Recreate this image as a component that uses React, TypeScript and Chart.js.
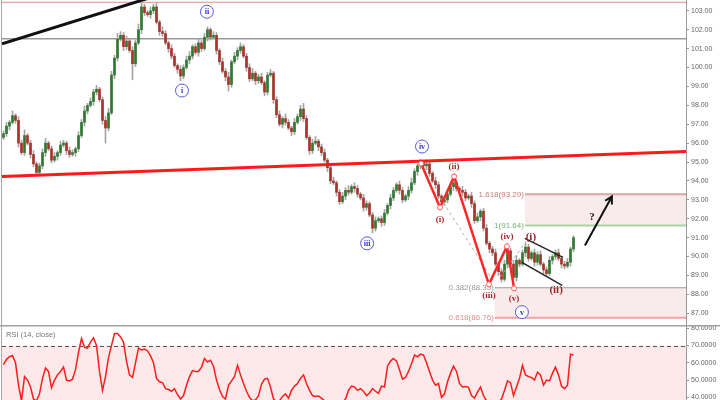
import React, { useEffect, useRef } from 'react';
import { Chart, registerables } from 'chart.js';

Chart.register(...registerables);

// ---------- DATA ----------
const TOTAL_SLOTS = 228; // candle slots incl. empty future space
const firstOpen = 96.3;
const closes = [
  96.5, 96.9, 97.1, 97.45, 97.2, 96.0, 95.5, 96.4, 96.0, 95.4,
  94.9, 94.45, 94.8, 95.5, 96.0, 95.7, 95.1, 95.3, 95.5, 95.9,
  96.0, 95.6, 95.4, 95.5, 95.7, 96.4, 97.1, 97.7, 98.0, 98.2,
  98.7, 98.85, 98.3, 97.2, 96.8, 97.6, 99.6, 100.5, 101.5, 101.7,
  101.1, 101.4, 100.9, 100.2, 101.3, 102.0, 103.2, 102.9, 102.8, 103.0,
  103.2, 102.4, 101.9, 101.8, 101.3, 101.0, 100.6, 100.1, 99.9, 99.55,
  100.0, 100.4, 100.6, 101.1, 100.8, 101.3, 101.0, 101.6, 102.0, 101.6,
  101.7, 100.9, 100.3, 99.8, 99.5, 99.1, 100.3, 100.6, 100.9, 101.1,
  100.6, 100.0, 99.4, 99.7, 99.3, 99.5, 99.2, 98.7, 99.6, 99.7,
  98.3, 97.5, 97.0, 97.3, 97.1, 96.8, 96.6, 97.1, 97.4, 97.8,
  97.3, 96.3, 95.6, 96.0, 96.1, 95.8, 95.5, 95.1, 94.7, 94.0,
  93.9, 93.4, 92.9, 93.2, 93.5, 93.4, 93.7, 93.6, 93.3, 93.1,
  92.6, 92.8, 92.2, 91.5, 91.9, 92.0, 91.8, 92.3, 92.7, 93.1,
  93.5, 93.8, 93.5, 93.0, 93.2, 93.5, 93.9, 94.5, 94.8, 95.0,
  94.8, 94.9, 94.4, 94.0, 93.8, 93.2, 92.9, 93.0, 93.3, 93.7,
  93.9, 93.6, 93.5, 93.4, 93.1, 93.2, 92.8, 91.9, 92.1, 92.4,
  91.5, 90.7, 90.4, 90.2, 89.6, 89.2, 88.8, 89.6, 90.3, 89.6,
  88.9, 89.8, 89.6, 90.2, 90.5, 89.9, 90.2, 89.7, 90.1, 89.6,
  89.3, 89.1, 89.8, 90.0, 90.2, 89.9, 89.6, 89.5, 89.7, 90.4, 91.0,
];
const upWick = [
  0.15, 0.2, 0.1, 0.25, 0.1, 0.2, 0.15, 0.3, 0.1, 0.15,
  0.2, 0.1, 0.15, 0.2, 0.25, 0.1, 0.15, 0.2, 0.1, 0.2,
  0.15, 0.1, 0.2, 0.15, 0.1, 0.2, 0.15, 0.25, 0.1, 0.2,
  0.15, 0.2, 0.1, 0.15, 0.2, 0.25, 0.2, 0.15, 0.3, 0.2,
  0.15, 0.25, 0.1, 0.2, 0.15, 0.3, 0.2, 0.15, 0.1, 0.2,
  0.15, 0.2, 0.1, 0.25, 0.15, 0.1, 0.2, 0.15, 0.1, 0.2,
  0.15, 0.2, 0.25, 0.1, 0.15, 0.2, 0.15, 0.2, 0.15, 0.1,
  0.2, 0.15, 0.1, 0.2, 0.15, 0.25, 0.1, 0.2, 0.15, 0.2,
  0.1, 0.15, 0.2, 0.25, 0.1, 0.15, 0.2, 0.1, 0.15, 0.2,
  0.1, 0.15, 0.2, 0.1, 0.25, 0.15, 0.1, 0.2, 0.15, 0.2,
  0.3, 0.15, 0.1, 0.2, 0.25, 0.1, 0.15, 0.2, 0.1, 0.15,
  0.2, 0.1, 0.15, 0.2, 0.15, 0.25, 0.1, 0.2, 0.15, 0.1,
  0.2, 0.15, 0.1, 0.15, 0.2, 0.1, 0.15, 0.2, 0.1, 0.2,
  0.15, 0.1, 0.2, 0.15, 0.1, 0.2, 0.25, 0.15, 0.1, 0.15,
  0.1, 0.2, 0.15, 0.1, 0.2, 0.15, 0.1, 0.2, 0.15, 0.1,
  0.2, 0.15, 0.1, 0.2, 0.15, 0.1, 0.2, 0.15, 0.2, 0.1,
  0.15, 0.2, 0.1, 0.15, 0.2, 0.1, 0.15, 0.2, 0.1, 0.15,
  0.2, 0.25, 0.1, 0.15, 0.2, 0.15, 0.1, 0.2, 0.15, 0.2,
  0.1, 0.15, 0.2, 0.1, 0.15, 0.2, 0.1, 0.15, 0.2, 0.1, 0.1,
];
const downWick = [
  0.1, 0.15, 0.2, 0.1, 0.15, 0.2, 0.1, 0.15, 0.1, 0.2,
  0.15, 0.2, 0.1, 0.15, 0.2, 0.1, 0.15, 0.1, 0.2, 0.15,
  0.1, 0.2, 0.15, 0.1, 0.2, 0.15, 0.1, 0.2, 0.15, 0.1,
  0.2, 0.15, 0.1, 0.2, 0.8, 0.15, 0.1, 0.2, 0.15, 0.1,
  0.2, 0.15, 0.1, 0.85, 0.15, 0.1, 0.2, 0.15, 0.1, 0.2,
  0.15, 0.1, 0.2, 0.15, 0.1, 0.2, 0.15, 0.1, 0.2, 0.25,
  0.15, 0.1, 0.2, 0.15, 0.1, 0.2, 0.15, 0.1, 0.2, 0.15,
  0.1, 0.2, 0.15, 0.1, 0.2, 0.35, 0.15, 0.1, 0.2, 0.15,
  0.1, 0.2, 0.15, 0.1, 0.2, 0.15, 0.1, 0.2, 0.15, 0.1,
  0.2, 0.15, 0.1, 0.2, 0.15, 0.1, 0.2, 0.15, 0.1, 0.2,
  0.15, 0.1, 0.2, 0.15, 0.1, 0.2, 0.15, 0.1, 0.2, 0.15,
  0.1, 0.2, 0.15, 0.1, 0.2, 0.15, 0.1, 0.2, 0.15, 0.1,
  0.2, 0.15, 0.1, 0.25, 0.15, 0.1, 0.2, 0.15, 0.1, 0.2,
  0.15, 0.1, 0.2, 0.15, 0.1, 0.2, 0.15, 0.1, 0.2, 0.15,
  0.1, 0.2, 0.15, 0.1, 0.2, 0.15, 0.1, 0.2, 0.15, 0.1,
  0.2, 0.15, 0.1, 0.2, 0.15, 0.1, 0.2, 0.15, 0.1, 0.2,
  0.15, 0.1, 0.2, 0.15, 0.1, 0.2, 0.15, 0.1, 0.2, 0.15,
  0.1, 0.2, 0.15, 0.1, 0.2, 0.15, 0.1, 0.2, 0.15, 0.1,
  0.2, 0.15, 0.1, 0.2, 0.15, 0.1, 0.2, 0.15, 0.1, 0.2, 0.15,
];
const rsiValues = [
  59, 62, 63.5, 64.2, 60, 47, 38, 52, 50, 46,
  39, 38, 42, 51, 57, 55, 45.5, 50, 53, 55,
  57.5, 50, 49.5, 50.5, 56, 66, 74, 69, 68.5, 72,
  74.5, 70, 55, 44, 52, 63, 70, 77, 77, 75,
  72, 61, 53, 51.5, 60, 68.5, 67.5, 68, 67, 64,
  60, 51, 49, 48.5, 45, 44.5, 43.5, 45, 41.5, 39,
  41, 47, 52, 55.5, 55, 55, 57.5, 62.5, 60.5, 61.5,
  58, 50, 44.5, 40.5, 39, 47, 49.5, 52, 58.5, 53,
  48, 43.5, 40, 38, 38.5, 41, 47.5, 50.5, 51, 46,
  39, 37.5, 38, 40.5, 42, 39.5, 44, 46.5, 48, 51,
  53, 48, 44, 41, 40.5, 40.8, 39.5, 38, 37, 36.5,
  36, 35.5, 35, 37, 39, 44, 46.5, 46, 44, 45,
  43.5, 41, 42.5, 45, 43.5, 42.3, 46.5, 46, 58, 61,
  62.5, 61, 56, 50.5, 51.5, 55, 59.5, 64.5, 63.5, 65,
  64.5, 60, 55, 50, 47, 48, 40, 42, 49, 54,
  58, 55, 48, 46, 46.3, 45.8, 41, 39.5, 43, 46,
  41, 38, 37, 36.5, 36.5, 37, 39, 44, 49.5, 48.5,
  41, 46, 51, 58.5, 53, 52, 51.5, 50, 54.5, 53,
  47, 50, 49.5, 54, 57.5, 53, 46.5, 45, 47, 65, 64.5,
];

// Reference levels (price)
const refLevels = [103.45, 101.52];
// Fibonacci levels
const fibLabels = ['1.618(93.29)', '1(91.64)', '0.382(88.35)', '0.618(86.76)'];
const fibValues = [93.29, 91.64, 88.35, 86.76];
const fibStart = [173.8, 173.8, 163.8, 163.8];
const fibZoneTop = [93.29, 88.35];
const fibZoneBottom = [91.64, 86.76];
const fibZoneStart = [173.8, 163.8];

// Trend lines [index, price]
const redTrend = [[-0.5, 94.24], [227.5, 95.56]];
const blackTrend = [[-0.5, 101.25], [48, 103.65]];

// Primary wave labels (circled)
const circleLabels = ['i', 'ii', 'iii', 'iv', 'v'];
const circleIdx = [59.5, 67.8, 121.2, 139.5, 172.8];
const circlePrice = [98.78, 102.95, 90.7, 95.82, 87.06];

// Minor wave zigzag
const zigIdx = [139.2, 145.5, 150.2, 161.8, 167.8, 170.2];
const zigPrice = [94.92, 92.6, 94.24, 88.53, 90.54, 88.32];
const zigLabels = ['', '(i)', '(ii)', '(iii)', '(iv)', '(v)'];
const zigLabelPrice = [0, 91.97, 94.76, 87.95, 91.07, 87.79];

// Sub-wave labels after (v)
const subLabels = ['(i)', '(ii)'];
const subIdx = [175.8, 184.2];
const subPrice = [91.01, 88.21];

// Channel & dashed fib guides
const channelUpper = [[173.8, 90.96], [186.5, 89.96]];
const channelLower = [[172.8, 89.69], [186.2, 88.48]];
const dashedA = [[145.5, 93.13], [163.2, 88.74]];
const dashedB = [[165.5, 88.9], [174.5, 90.86]];

// Projection arrow
const arrowPts = [[193.8, 90.59], [202.8, 93.18]];
const questionAt = [196.2, 92.07];

// Axis ranges
const MAIN_MIN = 86.38;
const MAIN_MAX = 103.57;
const RSI_MIN = 38.44;
const RSI_MAX = 81.9;
const RSI_UPPER = 70;
const RSI_LOWER = 30;

const UP = '#2e7a30';
const DOWN = '#a5352b';
const SANS = '"Liberation Sans", Arial, sans-serif';
const SERIF = '"Liberation Serif", "Times New Roman", serif';

function axisFit(s: any) {
  s.width = 34;
  s.paddingTop = 0;
  s.paddingBottom = 0;
}

export default function App() {
  const mainRef = useRef<HTMLCanvasElement>(null);
  const rsiRef = useRef<HTMLCanvasElement>(null);

  useEffect(() => {
    const labels = Array.from({ length: TOTAL_SLOTS }, (_, i) => String(i));
    const opens = closes.map((c, i) => (i === 0 ? firstOpen : closes[i - 1]));
    const bodies = closes.map((c, i) => [opens[i], c]);
    const wicks = closes.map((c, i) => [
      Math.min(opens[i], c) - downWick[i],
      Math.max(opens[i], c) + upWick[i],
    ]);
    const bodyColors = closes.map((c, i) => (c >= opens[i] ? UP : DOWN));

    const mainOverlay = {
      id: 'mainOverlay',
      beforeDatasetsDraw(chart: any) {
        const { ctx, chartArea: a, scales } = chart;
        const X = (v: number) => scales.x.getPixelForValue(v);
        const Y = (v: number) => scales.y.getPixelForValue(v);
        ctx.save();
        ctx.beginPath();
        ctx.rect(a.left, a.top, a.right - a.left, a.bottom - a.top);
        ctx.clip();
        for (let k = 0; k < fibZoneTop.length; k++) {
          const x0 = X(fibZoneStart[k]);
          ctx.fillStyle = 'rgba(240, 205, 205, 0.4)';
          ctx.fillRect(x0, Y(fibZoneTop[k]), a.right - x0, Y(fibZoneBottom[k]) - Y(fibZoneTop[k]));
        }
        const refColors = ['#e58a8a', '#9a9a9a'];
        refLevels.forEach((lv, k) => {
          ctx.strokeStyle = refColors[k];
          ctx.lineWidth = k === 0 ? 1 : 1.5;
          ctx.beginPath();
          ctx.moveTo(a.left, Y(lv));
          ctx.lineTo(a.right, Y(lv));
          ctx.stroke();
        });
        ctx.restore();
      },
      afterDatasetsDraw(chart: any) {
        const { ctx, chartArea: a, scales } = chart;
        const X = (v: number) => scales.x.getPixelForValue(v);
        const Y = (v: number) => scales.y.getPixelForValue(v);
        const seg = (pts: number[][], color: string, w: number, dash: number[] = []) => {
          ctx.strokeStyle = color;
          ctx.lineWidth = w;
          ctx.setLineDash(dash);
          ctx.beginPath();
          ctx.moveTo(X(pts[0][0]), Y(pts[0][1]));
          for (let k = 1; k < pts.length; k++) ctx.lineTo(X(pts[k][0]), Y(pts[k][1]));
          ctx.stroke();
          ctx.setLineDash([]);
        };
        ctx.save();
        ctx.beginPath();
        ctx.rect(a.left, a.top, a.right - a.left, a.bottom - a.top);
        ctx.clip();

        const fibLineColors = ['#d9a3a3', '#a9d3a1', '#9a9a9a', '#f2a4a4'];
        const fibLineWidths = [2, 2, 1, 2];
        const fibTextColors = ['#c87878', '#78b078', '#9a9a9a', '#ee8888'];
        fibValues.forEach((v, k) => {
          const x0 = X(fibStart[k]);
          ctx.strokeStyle = fibLineColors[k];
          ctx.lineWidth = fibLineWidths[k];
          ctx.beginPath();
          ctx.moveTo(x0, Y(v));
          ctx.lineTo(a.right, Y(v));
          ctx.stroke();
          ctx.fillStyle = fibTextColors[k];
          ctx.font = `8px ${SANS}`;
          ctx.textAlign = 'right';
          ctx.textBaseline = 'middle';
          ctx.fillText(fibLabels[k], x0 - 1, Y(v));
        });

        seg(dashedA, '#b0b0b0', 1, [3, 3]);
        seg(dashedB, '#b0b0b0', 1, [3, 3]);

        seg(redTrend, '#ff1a1a', 3);
        seg(blackTrend, '#111111', 3);

        ctx.lineJoin = 'miter';
        seg(zigIdx.map((x, k) => [x, zigPrice[k]]), '#ff2626', 2.5);
        zigIdx.forEach((x, k) => {
          ctx.beginPath();
          ctx.arc(X(x), Y(zigPrice[k]), 2.5, 0, Math.PI * 2);
          ctx.fillStyle = '#ffffff';
          ctx.fill();
          ctx.strokeStyle = '#ff5a5a';
          ctx.lineWidth = 1;
          ctx.stroke();
          if (zigLabels[k]) {
            ctx.fillStyle = '#a52a2a';
            ctx.font = `bold 9px ${SERIF}`;
            ctx.textAlign = 'center';
            ctx.textBaseline = 'middle';
            ctx.fillText(zigLabels[k], X(x), Y(zigLabelPrice[k]));
          }
        });

        seg(channelUpper, '#222222', 1.5);
        seg(channelLower, '#222222', 1.5);

        subLabels.forEach((t, k) => {
          ctx.fillStyle = '#9e2626';
          ctx.font = `bold 11px ${SERIF}`;
          ctx.textAlign = 'center';
          ctx.textBaseline = 'middle';
          ctx.fillText(t, X(subIdx[k]), Y(subPrice[k]));
        });

        circleLabels.forEach((t, k) => {
          const cx = X(circleIdx[k]);
          const cy = Y(circlePrice[k]);
          ctx.beginPath();
          ctx.arc(cx, cy, 6.5, 0, Math.PI * 2);
          ctx.fillStyle = '#ffffff';
          ctx.fill();
          ctx.strokeStyle = '#5757e0';
          ctx.lineWidth = 1;
          ctx.stroke();
          ctx.fillStyle = '#3434c8';
          ctx.font = `bold 8px ${SERIF}`;
          ctx.textAlign = 'center';
          ctx.textBaseline = 'middle';
          ctx.fillText(t, cx, cy + 0.5);
        });

        const x1 = X(arrowPts[0][0]), y1 = Y(arrowPts[0][1]);
        const x2 = X(arrowPts[1][0]), y2 = Y(arrowPts[1][1]);
        ctx.strokeStyle = '#111111';
        ctx.lineWidth = 2;
        ctx.beginPath();
        ctx.moveTo(x1, y1);
        ctx.lineTo(x2, y2);
        const ang = Math.atan2(y2 - y1, x2 - x1);
        const L = 8;
        ctx.moveTo(x2 - L * Math.cos(ang - 0.5), y2 - L * Math.sin(ang - 0.5));
        ctx.lineTo(x2, y2);
        ctx.lineTo(x2 - L * Math.cos(ang + 0.5), y2 - L * Math.sin(ang + 0.5));
        ctx.stroke();
        ctx.fillStyle = '#111111';
        ctx.font = `bold 11px ${SERIF}`;
        ctx.textAlign = 'center';
        ctx.textBaseline = 'middle';
        ctx.fillText('?', X(questionAt[0]), Y(questionAt[1]));
        ctx.restore();

        ctx.save();
        ctx.strokeStyle = '#a8a8a8';
        ctx.lineWidth = 1;
        ctx.beginPath();
        ctx.moveTo(a.left - 0.5, 0);
        ctx.lineTo(a.left - 0.5, chart.height);
        ctx.stroke();
        ctx.restore();
      },
    };

    const rsiOverlay = {
      id: 'rsiOverlay',
      beforeDatasetsDraw(chart: any) {
        const { ctx, chartArea: a, scales } = chart;
        const Y = (v: number) => scales.y.getPixelForValue(v);
        ctx.save();
        ctx.beginPath();
        ctx.rect(a.left, a.top, a.right - a.left, a.bottom - a.top);
        ctx.clip();
        ctx.fillStyle = '#fde9e9';
        ctx.fillRect(a.left, Y(RSI_UPPER), a.right - a.left, Y(RSI_LOWER) - Y(RSI_UPPER));
        ctx.strokeStyle = '#555555';
        ctx.lineWidth = 1;
        ctx.setLineDash([4, 3]);
        ctx.beginPath();
        ctx.moveTo(a.left, Math.round(Y(RSI_UPPER)) + 0.5);
        ctx.lineTo(a.right, Math.round(Y(RSI_UPPER)) + 0.5);
        ctx.stroke();
        ctx.restore();
      },
      afterDraw(chart: any) {
        const { ctx, chartArea: a } = chart;
        ctx.save();
        ctx.strokeStyle = '#a0a0a0';
        ctx.lineWidth = 1.5;
        ctx.beginPath();
        ctx.moveTo(0, 0.75);
        ctx.lineTo(chart.width, 0.75);
        ctx.stroke();
        ctx.lineWidth = 1;
        ctx.strokeStyle = '#a8a8a8';
        ctx.beginPath();
        ctx.moveTo(a.left - 0.5, 0);
        ctx.lineTo(a.left - 0.5, chart.height);
        ctx.stroke();
        ctx.fillStyle = '#777777';
        ctx.font = `7.5px ${SANS}`;
        ctx.textAlign = 'left';
        ctx.textBaseline = 'middle';
        ctx.fillText('RSI (14, close)', a.left + 4, 10);
        ctx.restore();
      },
    };

    const mainChart = new Chart(mainRef.current as HTMLCanvasElement, {
      type: 'bar',
      data: {
        labels,
        datasets: [
          {
            data: bodies as any,
            backgroundColor: bodyColors,
            barThickness: 2,
            grouped: false,
            minBarLength: 1,
            order: 1,
          } as any,
          {
            data: wicks as any,
            backgroundColor: '#a4a4a4',
            barThickness: 1,
            grouped: false,
            order: 2,
          } as any,
        ],
      },
      options: {
        responsive: false,
        animation: false,
        devicePixelRatio: 1,
        events: [],
        layout: { padding: { left: 2, right: 0, top: 0, bottom: 0 } },
        plugins: { legend: { display: false }, tooltip: { enabled: false } },
        scales: {
          x: { display: false, offset: true, grid: { display: false } },
          y: {
            position: 'right',
            min: MAIN_MIN,
            max: MAIN_MAX,
            afterFit: axisFit,
            ticks: {
              stepSize: 1,
              includeBounds: false,
              padding: 2,
              color: '#666666',
              font: { size: 7, family: SANS },
              callback: (v: any) => Number(v).toFixed(2),
            },
            grid: { drawOnChartArea: false, tickLength: 3, color: '#999999' },
            border: { color: '#9a9a9a' },
          },
        },
      } as any,
      plugins: [mainOverlay],
    });

    const rsiChart = new Chart(rsiRef.current as HTMLCanvasElement, {
      type: 'line',
      data: {
        labels,
        datasets: [
          {
            data: rsiValues,
            borderColor: '#ff1c1c',
            borderWidth: 1.5,
            pointRadius: 0,
            tension: 0,
            fill: false,
          },
        ],
      },
      options: {
        responsive: false,
        animation: false,
        devicePixelRatio: 1,
        events: [],
        layout: { padding: { left: 2, right: 0, top: 0, bottom: 0 } },
        plugins: { legend: { display: false }, tooltip: { enabled: false } },
        scales: {
          x: { display: false, offset: true, grid: { display: false } },
          y: {
            position: 'right',
            min: RSI_MIN,
            max: RSI_MAX,
            afterFit: axisFit,
            ticks: {
              stepSize: 10,
              includeBounds: false,
              padding: 2,
              color: '#666666',
              font: { size: 7, family: SANS },
              callback: (v: any) => Number(v).toFixed(4),
            },
            grid: { drawOnChartArea: false, tickLength: 3, color: '#999999' },
            border: { color: '#9a9a9a' },
          },
        },
      } as any,
      plugins: [rsiOverlay],
    });

    return () => {
      mainChart.destroy();
      rsiChart.destroy();
    };
  }, []);

  return (
    <div
      style={{
        position: 'fixed',
        left: 0,
        top: 0,
        width: 720,
        height: 400,
        background: '#ffffff',
        overflow: 'hidden',
      }}
    >
      <canvas ref={mainRef} width={720} height={325} style={{ display: 'block' }} />
      <canvas ref={rsiRef} width={720} height={75} style={{ display: 'block' }} />
    </div>
  );
}
